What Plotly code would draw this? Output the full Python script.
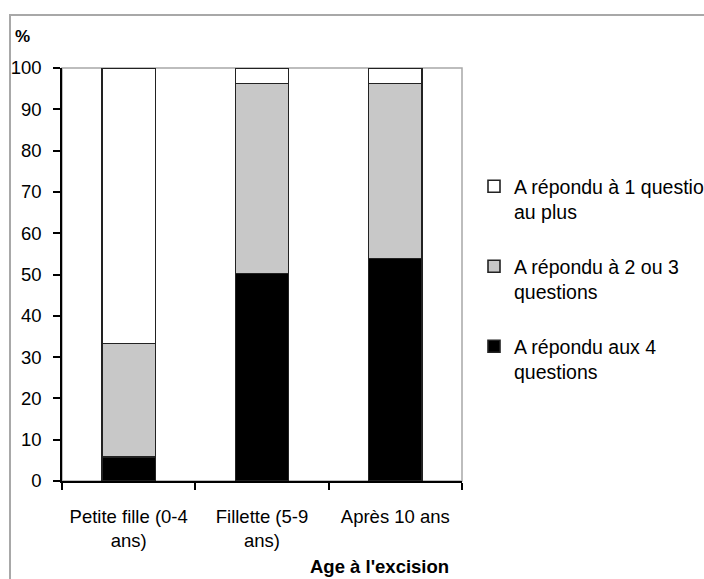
import plotly.graph_objects as go

categories = ["Petite fille (0-4<br>ans)", "Fillette (5-9<br>ans)", "Après 10 ans"]
series_names = ["A répondu aux 4<br>questions",
                "A répondu à 2 ou 3<br>questions",
                "A répondu à 1 question<br>au plus"]
four_questions = [5.8, 50.2, 53.9]
two_three_questions = [27.5, 46.0, 42.3]
one_question = [66.7, 3.8, 3.8]
y_ticks = list(range(0, 101, 10))

FONT = "Liberation Sans, Arial, sans-serif"
W, H = 704, 579
L, R, T, B = 62, 462, 68, 481

def px_x(p):
    return (p - L) / (R - L)

def px_y(p):
    return (B - p) / (B - T)

fig = go.Figure()
colors = ["#000000", "#c8c8c8", "#ffffff"]
values = [four_questions, two_three_questions, one_question]
legends = ["legend3", "legend2", "legend"]
for name, vals, col, lg in zip(series_names, values, colors, legends):
    fig.add_trace(go.Bar(
        x=categories, y=vals, name=name, legend=lg, showlegend=True,
        marker=dict(color=col, line=dict(color="#222222", width=1.6)),
    ))

leg_common = dict(
    xanchor="left", yanchor="top", valign="top",
    bgcolor="rgba(0,0,0,0)", borderwidth=0,
    font=dict(family=FONT, size=19.5, color="#000000"),
    itemwidth=30,
)
LX = 474
fig.update_layout(
    width=W, height=H, showlegend=True,
    margin=dict(l=L, r=W - R, t=T, b=H - B, autoexpand=False),
    paper_bgcolor="white", plot_bgcolor="white",
    barmode="stack", bargap=0.6,
    font=dict(family=FONT, size=18.5, color="#000000"),
    legend=dict(x=px_x(LX), y=px_y(167), **leg_common),
    legend2=dict(x=px_x(LX), y=px_y(247), **leg_common),
    legend3=dict(x=px_x(LX), y=px_y(327), **leg_common),
    xaxis=dict(
        type="category", showline=True, linecolor="#000000", linewidth=1.5,
        ticks="outside", ticklen=7, tickcolor="#000000", tickwidth=1.5,
        tickson="boundaries", showgrid=False, ticklabelstandoff=18,
        tickfont=dict(family=FONT, size=18.5, color="#000000"),
    ),
    yaxis=dict(
        range=[0, 100], tickvals=y_ticks, showline=True, linecolor="#000000",
        linewidth=1.5, ticks="outside", ticklen=7, tickcolor="#000000",
        tickwidth=1.5, showgrid=False, zeroline=False, ticklabelstandoff=8,
        tickfont=dict(family=FONT, size=18.5, color="#000000"),
    ),
    shapes=[
        dict(type="rect", xref="paper", yref="paper", x0=0, x1=1, y0=0, y1=1,
             line=dict(color="#a8a8a8", width=1.5), layer="below"),
        dict(type="rect", xref="paper", yref="paper",
             x0=px_x(10), x1=px_x(730), y0=px_y(15), y1=px_y(620),
             line=dict(color="#a8a8a8", width=2), layer="below"),
    ],
    annotations=[
        dict(text="<b>%</b>", xref="paper", yref="paper", x=px_x(13), y=px_y(36),
             xanchor="left", yanchor="middle", showarrow=False,
             font=dict(family=FONT, size=17, color="#000000")),
        dict(text="<b>Age à l'excision</b>", xref="paper", yref="paper",
             x=px_x(451), y=px_y(566), xanchor="right", yanchor="middle",
             showarrow=False, font=dict(family=FONT, size=18.5, color="#000000")),
    ],
)

fig.write_html("out.html", config={"displayModeBar": False},
               post_script="document.body.style.margin='0';document.body.style.overflow='hidden';")
